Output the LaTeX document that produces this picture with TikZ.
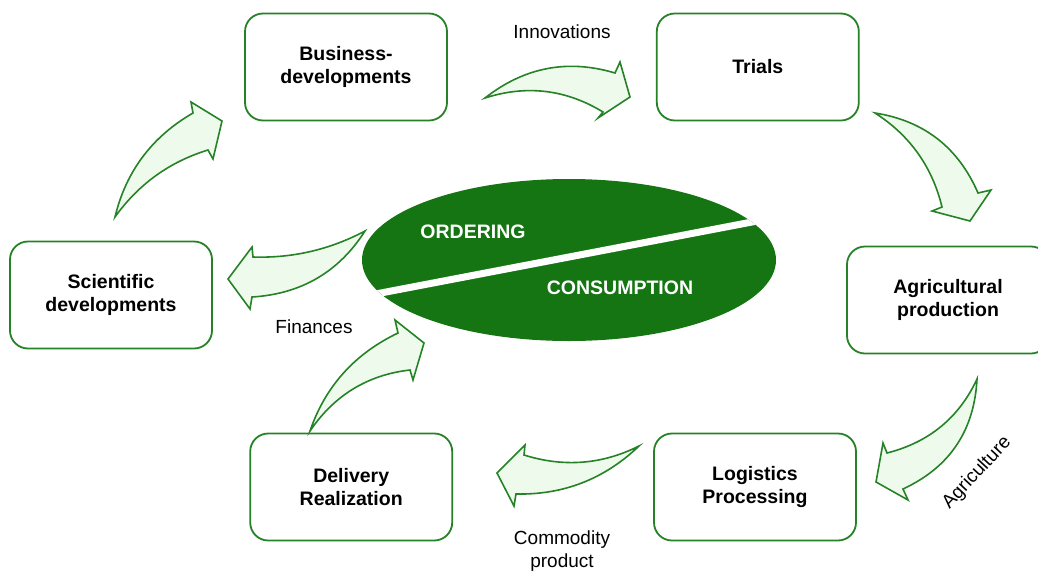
\documentclass[tikz,border=0pt]{standalone}
\usepackage{fontspec}
\setmainfont{Liberation Sans}
\usetikzlibrary{positioning, shapes.geometric}
\definecolor{boxgreen}{RGB}{38,130,38}
\definecolor{darkgreen}{RGB}{21,117,18}
\definecolor{palegreen}{RGB}{237,250,236}

\begin{document}
\begin{tikzpicture}[x=1pt, y=-1pt,
  stage/.style={rectangle, rounded corners=18pt, draw=boxgreen, line width=1.8pt, fill=white, minimum width=202pt, minimum height=107pt, align=center, font=\bfseries\fontsize{19.5}{23}\selectfont},
  flow/.style={draw=boxgreen, fill=palegreen, line width=1.6pt},
  tag/.style={font=\fontsize{19}{23}\selectfont, align=center, inner sep=0pt},
  core/.style={text=white, font=\bfseries\fontsize{19.5}{23}\selectfont}]

\useasboundingbox (0,0) rectangle (1038,571);

% Stages
\node[stage] (business) at (346,67) {Business-\\developments};
\node[stage, right=208pt of business] (trials) {Trials};
\node[stage] (agri) at (948,300) {Agricultural\\production};
\node[stage] (logistics) at (755,487) {Logistics\\Processing};
\node[stage, left=200pt of logistics] (delivery) {Delivery\\Realization};
\node[stage] (science) at (111,295) {Scientific\\developments};

% Centre
\node[ellipse, fill=darkgreen, minimum width=414pt, minimum height=162pt, inner sep=0pt,
  path picture={\draw[white, line width=7pt] ([shift={(-230,41)}]path picture bounding box.center) -- ++(460,-88);}] (hub) at (569,260) {};
\node[core] (ordering) at (473,232) {ORDERING};
\node[core] (consumption) at (620,288) {CONSUMPTION};

% Flow arrows
\draw[flow] (115,217) .. controls (126,171.3) and (152,136.7) .. (193,113) -- (191,102) -- (222,121) -- (213,159) -- (208,150) .. controls (169.5,161.8) and (138.5,184.2) .. cycle;
\draw[flow] (485,98) .. controls (524.3,67.2) and (567.7,58.8) .. (615,73) -- (620,62) -- (630,97) -- (598,118) -- (603,112) .. controls (565.7,89.3) and (526.3,84.7) .. cycle;
\draw[flow] (875,113) .. controls (923.8,120.7) and (958.2,147.3) .. (978,193) -- (991,190) -- (970,221) -- (932,211) -- (942,207) .. controls (932.2,166.7) and (909.8,135.3) .. cycle;
\draw[flow] (977,379) .. controls (974.3,430.7) and (949.7,467.3) .. (903,489) -- (908,500) -- (876,482) -- (883,443) -- (887,453) .. controls (929,442.3) and (959,417.7) .. cycle;
\draw[flow] (639,446) .. controls (604.5,479) and (563.5,495) .. (516,494) -- (514,506) -- (497,473) -- (525,445) -- (524,455) .. controls (563.8,467.5) and (602.2,464.5) .. cycle;
\draw[flow] (310,431) .. controls (325.3,386.3) and (354.7,353.7) .. (398,333) -- (395,320) -- (424,343) -- (413,380) -- (410,370) .. controls (367.7,374.8) and (334.3,395.2) .. cycle;
\draw[flow] (365,231) .. controls (329.7,249.7) and (292.3,258.3) .. (253,257) -- (252,247) -- (228,279) -- (250,309) -- (252,297) .. controls (301.2,294) and (338.8,272) .. cycle;

% Labels
\node[tag] (innovations) at (562,32) {Innovations};
\node[tag] (finances) at (314,327) {Finances};
\node[tag, rotate=47] (agriculture) at (977,473) {Agriculture};
\node[tag, anchor=north] (commodity) at (562,531) {Commodity\\product};

\end{tikzpicture}
\end{document}
